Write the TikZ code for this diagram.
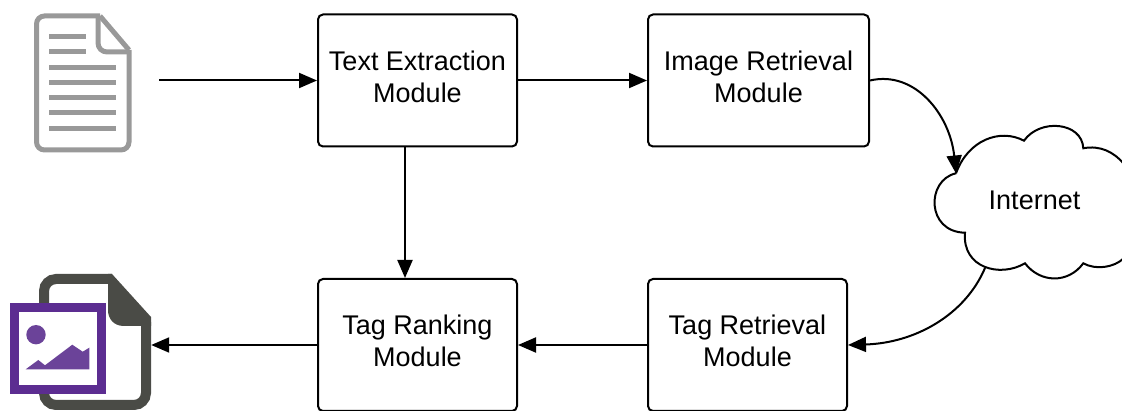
\documentclass[tikz,border=0pt]{standalone}
\usepackage{fontspec}
\setmainfont{Liberation Sans}
\usetikzlibrary{arrows.meta}
\definecolor{docgray}{HTML}{999999}
\definecolor{filedark}{HTML}{4A4B46}
\definecolor{picpurple}{HTML}{5C2D91}
\definecolor{hillpurple}{HTML}{6B4399}
\tikzset{
	modbox/.style={draw,line width=2pt,rounded corners=5pt,align=center,minimum height=132pt,font=\fontsize{27}{32}\selectfont,execute at end node={\rule[-8pt]{0pt}{8pt}}},
	iconbox/.style={minimum height=130pt,inner sep=0pt},
	link/.style={line width=2pt},
	docline/.style={docgray,line width=5pt}
}
\begin{document}
\begin{tikzpicture}[x=1pt,y=-1pt,>={Triangle[length=18pt,width=15pt]}]
		\useasboundingbox (0,0) rectangle (1122,411);
		% input document
		\draw [docgray,line width=5pt,rounded corners=8pt] (100,16)--(36.5,16)--(36.5,150)--(129,150)--(129,50);
		\draw [docgray,line width=5pt,line join=round] (129,50)--(100,16);
		\draw [docgray,line width=5pt,rounded corners=9pt] (98,16)--(98,52)--(129,52);
		\draw [docline] (49,37)--(86,37);
		\draw [docline] (49,52)--(86,52);
		\foreach \liney in {68,83,98,113,129}
			\draw [docline] (49,\liney)--(116,\liney);
		\node [iconbox,minimum width=150pt] (doc) at (84,81) {};
		% output image file
		\draw [filedark,line width=10pt,rounded corners=12pt] (112,279)--(44,279)--(44,405)--(146,405)--(146,322);
		\fill [filedark] (112,274)--(151,317)--(151,326)--(124,326) .. controls (113,326) and (108,318) .. (108,310)--(108,274)--cycle;
		\draw [picpurple,line width=9pt,fill=white] (14.5,308)rectangle(101,390);
		\fill [hillpurple] (36,334.7) circle(9.7pt);
		\fill [hillpurple] (25.7,369.3)--(38.3,360)--(45,365.3)--(72.3,344.7)--(82.7,351.7)--(89.3,347.7)--(89.3,369.3)--cycle;
		\node [iconbox,minimum width=142pt] (tagged) at (80,345) {};
		% modules
		\node [modbox,minimum width=199pt] (extract) at (417.5,80.5) {Text Extraction\\Module};
		\node [modbox,minimum width=221pt] (imgret) at (758.5,80.5) {Image Retrieval\\Module};
		\node [modbox,minimum width=199pt] (rank) at (417.5,345) {Tag Ranking\\Module};
		\node [modbox,minimum width=199pt] (tagret) at (747.5,345) {Tag Retrieval\\Module};
		% cloud
		\draw [line width=2pt] (956,173.3) .. controls (968,140) and (1000,128) .. (1024,140.7)
			.. controls (1040,118) and (1082,122) .. (1083.3,148.3)
			.. controls (1100,145) and (1114,152) .. (1124,164)
			(1124,258) .. controls (1114,268) and (1095,270) .. (1083.3,263.3)
			.. controls (1068,284) and (1040,283) .. (1025,263.3)
			.. controls (1000,278) and (962,268) .. (965,232.7)
			.. controls (926,232) and (926,180) .. (956,173.3);
		\node [font=\fontsize{27}{32}\selectfont] (internet) at (1034.5,200) {Internet};
		\coordinate (cloudin) at (956,173.5);
		\coordinate (cloudout) at (985,268);
		% connectors
		\draw [->,link] (doc.east|-extract.west)--(extract.west);
		\draw [->,link] (extract.east)--(imgret.west);
		\draw [->,link] ([xshift=-12.5pt]extract.south)--([xshift=-12.5pt]rank.north);
		\draw [->,link] (imgret.east) .. controls (915,70) and (950,115) .. (cloudin);
		\draw [->,link] (cloudout) .. controls (965,315) and (915,343) .. (tagret.east);
		\draw [->,link] (tagret.west)--(rank.east);
		\draw [->,link] (rank.west)--(tagged.east);
		\end{tikzpicture}
\end{document}
